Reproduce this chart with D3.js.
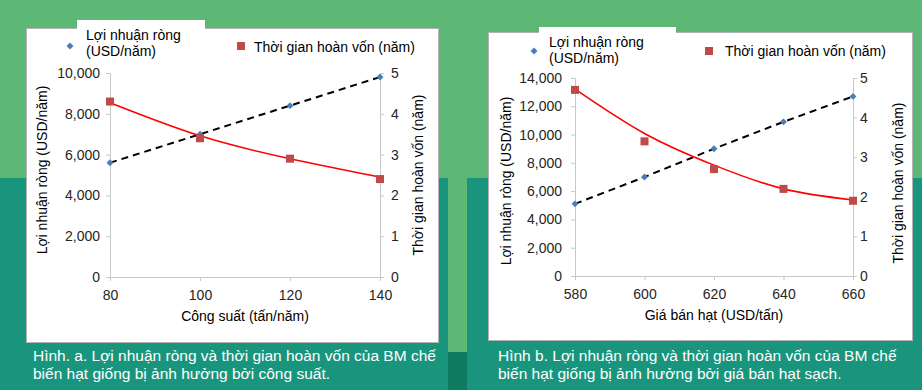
<!DOCTYPE html>
<html>
<head>
<meta charset="utf-8">
<script src="https://cdn.jsdelivr.net/npm/d3@7"></script>
<style>
  body { margin: 0; }
  svg { display: block; font-family: "Liberation Sans", Arial, sans-serif; }
  .tick-label { font-size: 14px; fill: #262626; }
  .axis-title { font-size: 14px; fill: #000; }
  .legend-text { font-size: 14px; fill: #000; }
  .caption { font-size: 15.5px; fill: #fff; }
</style>
</head>
<body>
<div id="chart"></div>
<script>
// Hinh a: cong suat
var capacityA = [80, 100, 120, 140];
var profitA = [5600, 7000, 8400, 9800];
var paybackA = [4.3, 3.4, 2.9, 2.4];
var paybackTrendA = [4.27, 3.46, 2.9, 2.45];
var xTicksA = [80, 100, 120, 140];
var yTicksA = [0, 2000, 4000, 6000, 8000, 10000];

// Hinh b: gia ban hat
var priceB = [580, 600, 620, 640, 660];
var profitB = [5100, 7000, 9000, 10900, 12700];
var paybackB = [4.7, 3.4, 2.7, 2.2, 1.9];
var paybackTrendB = [4.72, 3.6, 2.8, 2.2, 1.92];
var xTicksB = [580, 600, 620, 640, 660];
var yTicksB = [0, 2000, 4000, 6000, 8000, 10000, 12000, 14000];

var y2Ticks = [0, 1, 2, 3, 4, 5];

var legendProfit = ["Lợi nhuận ròng", "(USD/năm)"];
var legendPayback = "Thời gian hoàn vốn (năm)";
var yTitle = "Lợi nhuận ròng (USD/năm)";
var y2Title = "Thời gian hoàn vốn (năm)";

var svg = d3.select("#chart").append("svg")
    .attr("width", 922)
    .attr("height", 390);

// background panels
svg.append("rect").attr("width", 922).attr("height", 390).attr("fill", "#1a957d");
svg.append("rect").attr("width", 922).attr("height", 178).attr("fill", "#5cb874");
svg.append("rect").attr("x", 448).attr("y", 178).attr("width", 19).attr("height", 174).attr("fill", "#5cb874");
svg.append("rect").attr("x", 448).attr("y", 352).attr("width", 19).attr("height", 38).attr("fill", "#107b63");

function drawChart(cfg) {
    var g = svg.append("g");

    // white box + legend patch
    g.append("rect")
        .attr("x", cfg.box[0] + 0.5).attr("y", cfg.box[1] + 0.5)
        .attr("width", cfg.box[2]).attr("height", cfg.box[3])
        .attr("fill", "#fff").attr("stroke", "#b3b3b3");
    g.append("rect")
        .attr("x", cfg.patch[0]).attr("y", cfg.patch[1])
        .attr("width", cfg.patch[2]).attr("height", cfg.patch[3])
        .attr("fill", "#fff");

    var x = d3.scaleLinear().domain(d3.extent(cfg.xTicks)).range(cfg.xRange);
    var y = d3.scaleLinear().domain(d3.extent(cfg.yTicks)).range(cfg.yRange);
    var y2 = d3.scaleLinear().domain(d3.extent(y2Ticks)).range(cfg.yRange);

    // left axis
    var yAxis = g.append("g")
        .attr("transform", "translate(" + cfg.xRange[0] + ",0)")
        .call(d3.axisLeft(y).tickValues(cfg.yTicks).tickFormat(d3.format(",")).tickSize(4).tickPadding(cfg.leftPad));
    // right axis
    var y2Axis = g.append("g")
        .attr("transform", "translate(" + cfg.xRange[1] + ",0)")
        .call(d3.axisRight(y2).tickValues(y2Ticks).tickFormat(d3.format("d")).tickSize(4).tickPadding(cfg.rightPad));
    // bottom axis
    var xAxis = g.append("g")
        .attr("transform", "translate(0," + cfg.yRange[0] + ")")
        .call(d3.axisBottom(x).tickValues(cfg.xTicks).tickFormat(d3.format("d")).tickSize(4).tickPadding(9));

    [yAxis, y2Axis, xAxis].forEach(function (a) {
        a.select(".domain").attr("stroke", "#c8c8c8");
        a.selectAll(".tick line").attr("stroke", "#c8c8c8");
        a.selectAll(".tick text").attr("class", "tick-label").attr("font-family", null).attr("font-size", null).attr("fill", null);
    });

    // axis titles
    g.append("text").attr("class", "axis-title")
        .attr("x", d3.mean(cfg.xRange)).attr("y", cfg.xTitleY)
        .attr("text-anchor", "middle").text(cfg.xTitle);
    g.append("text").attr("class", "axis-title")
        .attr("transform", "translate(" + cfg.yTitlePos[0] + "," + cfg.yTitlePos[1] + ") rotate(-90)")
        .attr("text-anchor", "middle").text(yTitle);
    g.append("text").attr("class", "axis-title")
        .attr("transform", "translate(" + cfg.y2TitlePos[0] + "," + cfg.y2TitlePos[1] + ") rotate(-90)")
        .attr("text-anchor", "middle").text(y2Title);

    // profit trend (dashed)
    var profitLine = d3.line()
        .x(function (d, i) { return x(cfg.xs[i]); })
        .y(function (d) { return y(d); });
    g.append("path").datum(cfg.profit)
        .attr("d", profitLine)
        .attr("fill", "none").attr("stroke", "#000")
        .attr("stroke-width", 2).attr("stroke-dasharray", "7,5");

    // payback trend (red curve)
    var paybackLine = d3.line()
        .x(function (d, i) { return x(cfg.xs[i]); })
        .y(function (d) { return y2(d); })
        .curve(d3.curveNatural);
    g.append("path").datum(cfg.paybackTrend)
        .attr("d", paybackLine)
        .attr("fill", "none").attr("stroke", "#ff0000").attr("stroke-width", 1.6);

    var diamond = d3.symbol().type(d3.symbolSquare).size(24);

    g.selectAll(".profit-pt").data(cfg.profit).enter()
        .append("path").attr("class", "profit-pt")
        .attr("d", diamond)
        .attr("transform", function (d, i) { return "translate(" + x(cfg.xs[i]) + "," + y(d) + ") rotate(45)"; })
        .attr("fill", "#4a7ebb");

    g.selectAll(".payback-pt").data(cfg.payback).enter()
        .append("rect").attr("class", "payback-pt")
        .attr("x", function (d, i) { return x(cfg.xs[i]) - 4; })
        .attr("y", function (d) { return y2(d) - 4; })
        .attr("width", 8).attr("height", 8)
        .attr("fill", "#be4b48");

    // legend
    g.append("path").attr("d", diamond)
        .attr("transform", "translate(" + cfg.legDiamond[0] + "," + cfg.legDiamond[1] + ") rotate(45)")
        .attr("fill", "#4a7ebb");
    var lt = g.append("text").attr("class", "legend-text");
    lt.selectAll("tspan").data(legendProfit).enter().append("tspan")
        .attr("x", cfg.legText1[0])
        .attr("y", function (d, i) { return cfg.legText1[1] + i * cfg.legLineH; })
        .text(function (d) { return d; });
    g.append("rect")
        .attr("x", cfg.legSquare[0] - 4).attr("y", cfg.legSquare[1] - 4)
        .attr("width", 8).attr("height", 8).attr("fill", "#be4b48");
    g.append("text").attr("class", "legend-text")
        .attr("x", cfg.legText2[0]).attr("y", cfg.legText2[1])
        .text(legendPayback);

    // caption
    var cap = svg.append("text").attr("class", "caption");
    cap.selectAll("tspan").data(cfg.caption).enter().append("tspan")
        .attr("x", cfg.capPos[0])
        .attr("y", function (d, i) { return cfg.capPos[1] + i * 18; })
        .text(function (d) { return d; });
}

drawChart({
    box: [26, 28, 412, 314],
    patch: [77, 20, 128, 40],
    xs: capacityA, profit: profitA, payback: paybackA, paybackTrend: paybackTrendA,
    xTicks: xTicksA, yTicks: yTicksA,
    xRange: [110, 380], yRange: [277, 73],
    leftPad: 6, rightPad: 7,
    xTitle: "Công suất (tấn/năm)", xTitleY: 321,
    yTitlePos: [47, 170], y2TitlePos: [423, 175],
    legDiamond: [70, 46], legText1: [86, 40], legLineH: 16,
    legSquare: [241, 46], legText2: [254, 52],
    caption: ["Hình. a. Lợi nhuận ròng và thời gian hoàn vốn của BM chế",
              "biến hạt giống bị ảnh hưởng bởi công suất."],
    capPos: [33, 361]
});

drawChart({
    box: [488, 32, 424, 308],
    patch: [539, 27, 137, 40],
    xs: priceB, profit: profitB, payback: paybackB, paybackTrend: paybackTrendB,
    xTicks: xTicksB, yTicks: yTicksB,
    xRange: [575, 853], yRange: [276, 78],
    leftPad: 9, rightPad: 3,
    xTitle: "Giá bán hạt (USD/tấn)", xTitleY: 320,
    yTitlePos: [511, 181], y2TitlePos: [903, 183],
    legDiamond: [534, 51], legText1: [549, 47], legLineH: 16,
    legSquare: [709, 51], legText2: [725, 56],
    caption: ["Hình b. Lợi nhuận ròng và thời gian hoàn vốn của BM chế",
              "biến hạt giống bị ảnh hưởng bởi giá bán hạt sạch."],
    capPos: [498, 361]
});
</script>
</body>
</html>
